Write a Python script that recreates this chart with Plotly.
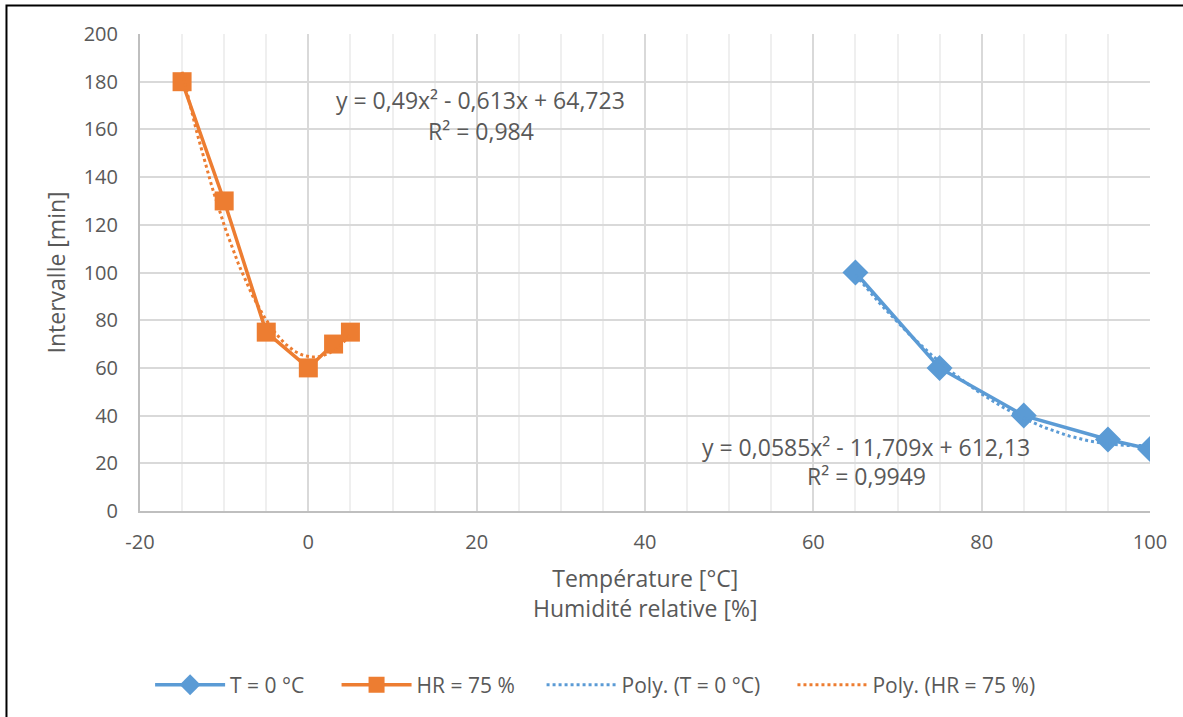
import numpy as np
import plotly.graph_objects as go

# Data
t_x = [65, 75, 85, 95, 100]          # Humidité relative [%] (T = 0 °C)
t_y = [100, 60, 40, 30, 26]
hr_x = [-15, -10, -5, 0, 3, 5]       # Température [°C] (HR = 75 %)
hr_y = [180, 130, 75, 60, 70, 75]

x_tickvals = [-20, 0, 20, 40, 60, 80, 100]
x_ticktext = ["-20", "0", "20", "40", "60", "80", "100"]

name_t = "T = 0 °C"
name_hr = "HR = 75 %"
eq_t = ["y = 0,0585x² - 11,709x + 612,13", "R² = 0,9949"]
eq_hr = ["y = 0,49x² - 0,613x + 64,723", "R² = 0,984"]
x_title = ["Température [°C]", "Humidité relative [%]"]
y_title = "Intervalle [min]"

BLUE = "#5B9BD5"
ORANGE = "#ED7D31"
TXT = "#595959"
FONT = "Open Sans"
FS_TICK = 20
FS_TITLE = 23
FS_EQ = 23
FS_LEG = 21
NB = "\u00a0"   # extra spacing between legend entries

# polynomial (order 2) trendlines fitted to the data
ct = np.polyfit(t_x, t_y, 2)
chr_ = np.polyfit(hr_x, hr_y, 2)
tx_fit = np.linspace(min(t_x), max(t_x), 100)
hx_fit = np.linspace(min(hr_x), max(hr_x), 100)

fig = go.Figure()
fig.add_trace(go.Scatter(x=t_x, y=t_y, name=name_t + NB * 5, mode="lines+markers",
                         line=dict(color=BLUE, width=3.5),
                         marker=dict(symbol="diamond", size=20, color=BLUE)))
fig.add_trace(go.Scatter(x=hr_x, y=hr_y, name=name_hr + NB * 4, mode="lines+markers",
                         line=dict(color=ORANGE, width=3.5),
                         marker=dict(symbol="square", size=19, color=ORANGE)))
fig.add_trace(go.Scatter(x=tx_fit, y=np.polyval(ct, tx_fit), name="Poly. (" + name_t + ")" + NB * 5,
                         mode="lines", line=dict(color=BLUE, width=3, dash="dot")))
fig.add_trace(go.Scatter(x=hx_fit, y=np.polyval(chr_, hx_fit), name="Poly. (" + name_hr + ")",
                         mode="lines", line=dict(color=ORANGE, width=3, dash="dot")))

fig.update_layout(
    width=1183, height=717,
    margin=dict(l=140, r=33, t=34, b=206),
    paper_bgcolor="white", plot_bgcolor="white",
    font=dict(family=FONT, size=FS_TICK, color=TXT),
    showlegend=True,
    legend=dict(orientation="h", x=0.010, xanchor="left", y=-0.365, yanchor="middle",
                font=dict(size=FS_LEG, color=TXT), itemwidth=70, traceorder="normal"),
    xaxis=dict(range=[-20, 100], tickvals=x_tickvals, ticktext=x_ticktext,
               showgrid=True, gridcolor="#D9D9D9",
               gridwidth=1.5, zeroline=False, showline=True, linecolor="#BFBFBF", linewidth=2,
               ticks="outside", ticklen=12, tickcolor="rgba(0,0,0,0)",
               minor=dict(dtick=5, showgrid=True, gridcolor="#EFEFEF", gridwidth=1.5),
               layer="below traces"),
    yaxis=dict(range=[0, 200], dtick=20, showgrid=True, gridcolor="#D9D9D9", gridwidth=1.5,
               zeroline=False, showline=True, linecolor="#BFBFBF", linewidth=2,
               ticks="outside", ticklen=16, tickcolor="rgba(0,0,0,0)"),
)

# axis titles
fig.add_annotation(text="<br>".join(x_title), xref="paper", yref="paper", x=0.5, y=-0.172,
                   showarrow=False, font=dict(size=FS_TITLE, color=TXT), yanchor="middle")
fig.add_annotation(text=y_title, xref="paper", yref="paper", x=-0.0832, y=0.5,
                   textangle=-90, showarrow=False, font=dict(size=FS_TITLE, color=TXT),
                   xanchor="center", yanchor="middle")

# trendline equations
fig.add_annotation(text=eq_hr[0], x=20.5, y=172.3, showarrow=False, font=dict(size=FS_EQ, color=TXT))
fig.add_annotation(text=eq_hr[1], x=20.5, y=159.3, showarrow=False, font=dict(size=FS_EQ, color=TXT))
fig.add_annotation(text=eq_t[0], x=66.3, y=26.7, showarrow=False, font=dict(size=FS_EQ, color=TXT))
fig.add_annotation(text=eq_t[1], x=66.3, y=14.5, showarrow=False, font=dict(size=FS_EQ, color=TXT))

# outer chart border (left/top)
fig.add_shape(type="rect", xref="paper", yref="paper", x0=-0.1322, x1=1.1, y0=-0.5, y1=1.0597,
              line=dict(color="black", width=2), fillcolor="rgba(0,0,0,0)", layer="below")

fig.write_html("out.html")
